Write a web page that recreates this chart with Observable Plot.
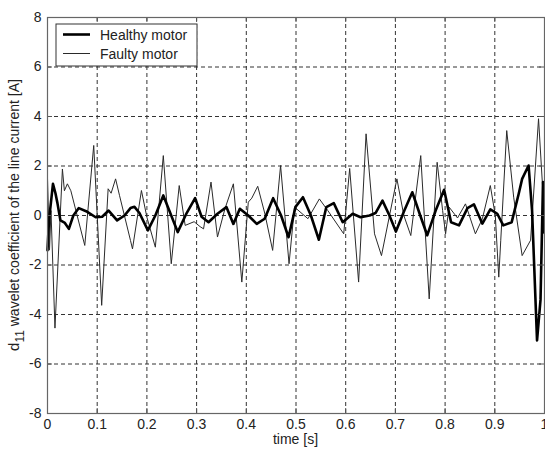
<!DOCTYPE html>
<html><head><meta charset="utf-8">
<script src="https://cdn.jsdelivr.net/npm/d3@7"></script>
<script src="https://cdn.jsdelivr.net/npm/@observablehq/plot@0.6"></script>
<style>body{margin:0;background:#fff;} svg{display:block}</style>
</head><body><div id="chart"></div>
<script>
const seriesNames = ["Healthy motor", "Faulty motor"];

const healthyT = [0.000,0.003,0.011,0.016,0.020,0.026,0.035,0.043,0.052,0.063,0.080,0.097,0.110,0.123,0.140,0.155,0.167,0.175,0.185,0.202,0.217,0.233,0.245,0.262,0.280,0.297,0.310,0.324,0.342,0.360,0.374,0.387,0.404,0.421,0.437,0.454,0.470,0.485,0.499,0.514,0.530,0.546,0.561,0.576,0.594,0.614,0.630,0.648,0.660,0.674,0.688,0.701,0.718,0.734,0.750,0.764,0.781,0.798,0.812,0.828,0.845,0.858,0.875,0.891,0.905,0.917,0.934,0.948,0.955,0.968,0.975,0.985,0.992,0.997,1.000];
const healthyV = [-1.4,-0.2,1.28,0.9,0.5,-0.2,-0.3,-0.54,0.0,0.3,0.15,-0.07,-0.05,0.2,-0.2,0.0,0.3,0.35,0.1,-0.6,0.0,0.81,0.2,-0.67,0.1,0.7,-0.05,-0.27,0.07,0.34,-0.34,0.27,0.0,-0.34,-0.13,0.7,0.0,-0.88,0.35,0.74,0.0,-0.98,0.34,0.5,-0.27,0.07,-0.07,0.0,0.1,0.6,0.0,-0.65,0.2,0.94,0.0,-0.8,0.2,1.04,-0.27,-0.4,0.3,0.45,-0.33,0.25,0.07,-0.4,-0.27,0.87,1.48,2.02,0.2,-5.05,-3.4,1.35,-0.7];

const faultyT = [0.000,0.004,0.007,0.015,0.030,0.034,0.040,0.047,0.075,0.093,0.109,0.122,0.128,0.137,0.145,0.167,0.171,0.189,0.200,0.217,0.233,0.249,0.265,0.277,0.295,0.307,0.314,0.329,0.342,0.357,0.374,0.391,0.404,0.411,0.423,0.437,0.453,0.469,0.486,0.497,0.524,0.547,0.564,0.596,0.608,0.626,0.641,0.658,0.672,0.703,0.717,0.731,0.751,0.768,0.784,0.795,0.801,0.808,0.825,0.841,0.861,0.875,0.891,0.901,0.908,0.912,0.924,0.938,0.955,0.972,0.988,0.999];
const faultyV = [1.5,-1.4,0.2,-4.55,1.88,1.0,1.28,1.0,-1.21,2.83,-3.63,1.08,0.9,1.48,0.8,-1.01,-1.35,1.01,-0.07,-1.28,2.42,-1.95,1.21,-0.4,-0.25,-0.45,-0.54,1.35,-0.87,0.27,1.28,-2.69,0.54,0.7,1.18,0.1,-1.41,2.02,-1.95,0.34,-0.13,0.67,0.2,-0.74,1.9,-2.69,3.3,-0.74,-1.62,1.48,0.0,-0.81,2.42,-3.37,2.15,0.2,-0.74,0.34,-0.1,0.47,-0.74,-0.13,1.21,0.0,-2.49,-1.0,3.43,0.74,-1.62,-1.0,3.91,0.2];

const xTicks = [0,0.1,0.2,0.3,0.4,0.5,0.6,0.7,0.8,0.9,1];
const xTickLabels = ["0","0.1","0.2","0.3","0.4","0.5","0.6","0.7","0.8","0.9","1"];
const yTicks = [-8,-6,-4,-2,0,2,4,6,8];
const yTickLabels = ["-8","-6","-4","-2","0","2","4","6","8"];
const xLabel = "time [s]";
const yLabelMain = "d";
const yLabelSub = "11";
const yLabelRest = " wavelet coefficient of the line current [A]";

const healthy = healthyT.map((t, i) => ({t, v: healthyV[i]}));
const faulty = faultyT.map((t, i) => ({t, v: faultyV[i]}));

const W = 545, H = 450, mL = 47, mR = 1, mT = 17, mB = 37;
const innerW = W - mL - mR, innerH = H - mT - mB;
const tick = 5;
const gridStyle = {stroke: "#333", strokeWidth: 1, strokeDasharray: "4,3"};

const svg = Plot.plot({
  width: W, height: H,
  marginLeft: mL, marginRight: mR, marginTop: mT, marginBottom: mB,
  style: {fontFamily: "'Liberation Sans', Arial, sans-serif", fontSize: "14px", color: "#222", background: "#fff"},
  x: {domain: [0, 1]},
  y: {domain: [-8, 8]},
  marks: [
    Plot.ruleX(xTicks, {...gridStyle}),
    Plot.ruleY(yTicks, {...gridStyle}),
    Plot.line(faulty, {x: "t", y: "v", stroke: "#2a2a2a", strokeWidth: 1}),
    Plot.line(healthy, {x: "t", y: "v", stroke: "#000", strokeWidth: 2.6}),
    Plot.ruleX(xTicks, {stroke: "#555", insetTop: innerH - tick}),
    Plot.ruleX(xTicks, {stroke: "#555", insetBottom: innerH - tick}),
    Plot.ruleY(yTicks, {stroke: "#555", insetRight: innerW - tick}),
    Plot.ruleY(yTicks, {stroke: "#555", insetLeft: innerW - tick}),
    Plot.frame({stroke: "#666", strokeWidth: 1.2}),
    Plot.axisX({ticks: xTicks, tickSize: 0, tickPadding: 6, tickFormat: d => xTickLabels[xTicks.indexOf(d)], label: null, fill: "#222"}),
    Plot.axisY({ticks: yTicks, tickSize: 0, tickPadding: 6, tickFormat: d => yTickLabels[yTicks.indexOf(d)], label: null, fill: "#222"})
  ]
});

const s = d3.select(svg);
// x label
s.append("text").attr("x", mL + innerW / 2).attr("y", H - 6)
  .attr("text-anchor", "middle").attr("font-size", 14).attr("fill", "#222").text(xLabel);
// y label
const yl = s.append("text").attr("transform", `translate(19,${mT + innerH / 2}) rotate(-90)`)
  .attr("text-anchor", "middle").attr("font-size", 14).attr("fill", "#222");
yl.append("tspan").attr("font-size", 15).text(yLabelMain);
yl.append("tspan").attr("font-size", 12).attr("dy", 5).text(yLabelSub);
yl.append("tspan").attr("dy", -5).text(yLabelRest);
// legend
const lg = s.append("g");
lg.append("rect").attr("x", 56).attr("y", 24).attr("width", 141).attr("height", 42)
  .attr("fill", "#fff").attr("stroke", "#333").attr("stroke-width", 1);
const styles = [{w: 2.6, c: "#000"}, {w: 1, c: "#2a2a2a"}];
seriesNames.forEach((n, i) => {
  const y = 34.5 + i * 19;
  lg.append("line").attr("x1", 63).attr("x2", 90).attr("y1", y).attr("y2", y)
    .attr("stroke", styles[i].c).attr("stroke-width", styles[i].w);
  lg.append("text").attr("x", 100).attr("y", y + 5.5).attr("text-anchor", "start")
    .attr("font-size", 14).attr("fill", "#222").text(n);
});

document.getElementById("chart").appendChild(svg);
</script>
</body></html>
